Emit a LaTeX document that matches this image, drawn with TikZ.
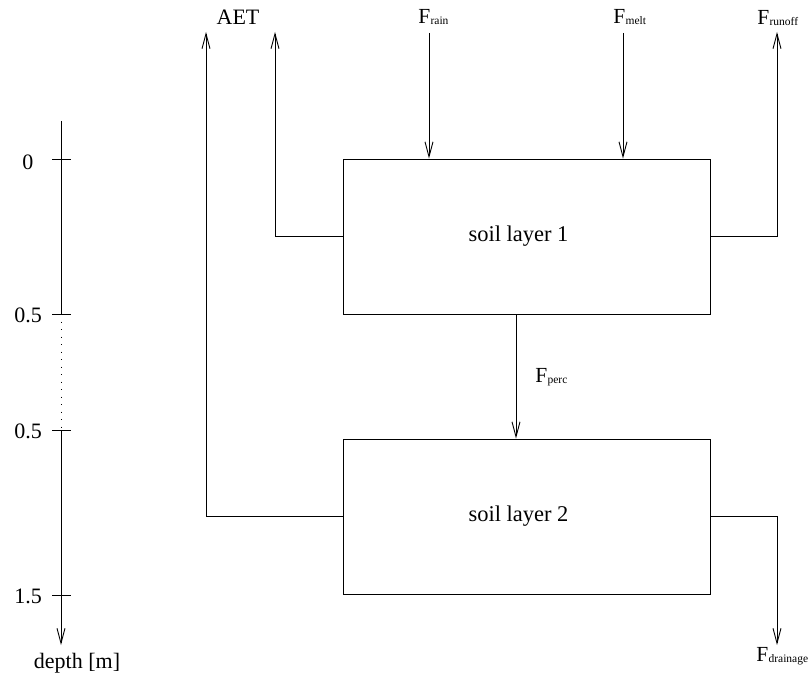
\documentclass[tikz,border=0pt]{standalone}
\usepackage{fontspec}
\setmainfont{Liberation Serif}
\usetikzlibrary{arrows.meta}
\newcommand{\flux}[1]{F\kern0.2pt\raisebox{-1pt}{\fontsize{11.5}{12}\selectfont #1}}
\begin{document}
\begin{tikzpicture}[x=1pt,y=-1pt, line width=0.9pt,
  flow/.style={-{Straight Barb[length=15pt,width=8pt]}},
  box/.style={draw, minimum width=367pt, minimum height=155pt, inner sep=0pt, font=\fontsize{22.5}{26}\selectfont},
  lab/.style={font=\fontsize{21.5}{24}\selectfont, inner sep=0pt, anchor=base west},
  dlab/.style={font=\fontsize{22}{24}\selectfont, inner sep=0pt, anchor=base},
  dotline/.style={dash pattern=on 1pt off 6.5pt}]
\useasboundingbox (0,0) rectangle (809,679);
% boxes
\node[box] (b1) at (526.5,236.5) {\hspace*{-16pt}soil layer 1};
\node[box] (b2) at (526.5,516.5) {\hspace*{-16pt}soil layer 2};
% coordinates
\coordinate (aet1) at (275,32);
\coordinate (aet2) at (206,32);
\coordinate (rain) at (429,33);
\coordinate (melt) at (623,33);
\coordinate (runoff) at (777,32);
\coordinate (drain) at (777,645);
\coordinate (perc) at (516,0);
% flows
\draw[flow] (b1.west) -| (aet1);
\draw[flow] (b2.west) -| (aet2);
\draw[flow] (rain) -- (rain |- b1.north);
\draw[flow] (melt) -- (melt |- b1.north);
\draw[flow] (b1.east) -| (runoff);
\draw[flow] (b2.east) -| (drain);
\draw[flow] (b1.south -| perc) -- (b2.north -| perc);
% labels
\node[dlab] (laet) at (238,25) {AET};
\node[lab] (lrain) at (418,24) {\flux{rain}};
\node[lab] (lmelt) at (613,24) {\flux{melt}};
\node[lab] (lrunoff) at (757,25) {\flux{runoff}};
\node[lab] (lperc) at (535,382) {\flux{perc}};
\node[lab] (ldrain) at (756,661) {\flux{drainage}};
% depth axis
\coordinate (atop) at (61,121);
\coordinate (ta) at (61,314);
\coordinate (tb) at (61,430);
\coordinate (abot) at (61,645);
\draw (atop) -- (ta);
\draw[dotline] (ta) -- (tb);
\draw[flow] (tb) -- (abot);
\draw (52,159) -- (71,159);
\draw (52,314) -- (71,314);
\draw (52,430) -- (71,430);
\draw (52,595) -- (71,595);
\node[dlab] (d0) at (28,170) {0};
\node[dlab] (d1) at (28,323) {0.5};
\node[dlab] (d2) at (28,438) {0.5};
\node[dlab] (d3) at (28,603) {1.5};
\node[dlab] (ldepth) at (77,668) {depth [m]};
\end{tikzpicture}
\end{document}
